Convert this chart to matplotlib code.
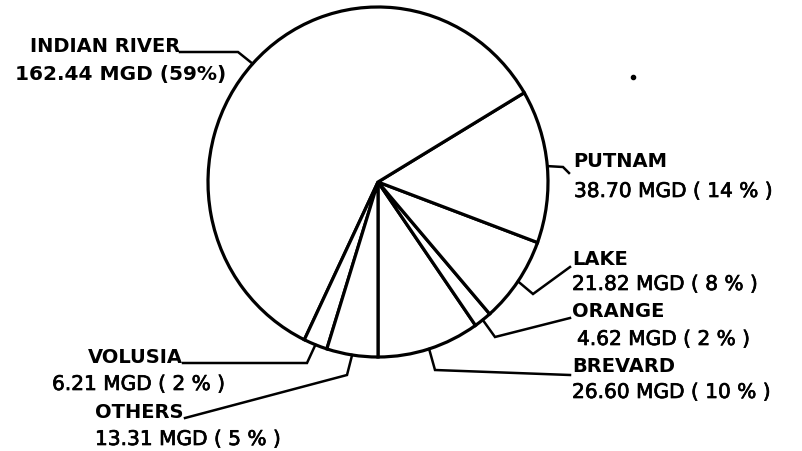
import numpy as np
import matplotlib.pyplot as plt
import matplotlib.patheffects as pe

# water use by county, million gallons per day
counties = ['BREVARD', 'ORANGE', 'LAKE', 'PUTNAM', 'INDIAN RIVER', 'VOLUSIA', 'OTHERS']
mgd = [26.60, 4.62, 21.82, 38.70, 162.44, 6.21, 13.31]
percents = [10, 2, 8, 14, 59, 2, 5]

W, H = 802, 451
CX, CY = 378, 182      # pie centre, pixels from top-left
RX, RY = 170, 175      # the scanned pie is a little taller than wide


def P(x, y):
    # pixel position -> data position
    return (x - CX) / RX, (CY - y) / RY


fig = plt.figure(figsize=(W / 100, H / 100), dpi=100)
ax = fig.add_axes([0, 0, 1, 1])
wedges, _ = ax.pie(mgd, startangle=-90, counterclock=True, radius=1,
                   colors=['white'] * len(mgd),
                   wedgeprops=dict(edgecolor='black', linewidth=2.3))
ax.set_aspect('auto')
x0, y0 = P(0, H)
x1, y1 = P(W, 0)
ax.set_xlim(x0, x1)
ax.set_ylim(y0, y1)
ax.axis('off')

# leader layout: elbow, end of line, name anchor, value position (pixels)
layout = {
    'INDIAN RIVER': [(238, 52), (180, 52), (180, 52), (15, 80)],
    'PUTNAM': [(563, 167), (569, 173), (573, 167), (574, 197)],
    'LAKE': [(533, 294), (570, 267), (572, 265), (572, 290)],
    'ORANGE': [(495, 337), (570, 318), (572, 317), (577, 345)],
    'BREVARD': [(435, 370), (570, 375), (572, 372), (572, 398)],
    'VOLUSIA': [(307, 363), (183, 363), (183, 363), (52, 390)],
    'OTHERS': [(347, 375), (185, 418), (184, 418), (95, 445)],
}
left_side = ['INDIAN RIVER', 'VOLUSIA', 'OTHERS']
thick = [pe.withStroke(linewidth=0.5, foreground='black')]

for w, name, v, p in zip(wedges, counties, mgd, percents):
    mid = np.deg2rad((w.theta1 + w.theta2) / 2)
    sx, sy = np.cos(mid), np.sin(mid)
    elbow, end, npos, vpos = layout[name]
    ex, ey = P(*elbow)
    tx, ty = P(*end)
    ax.plot([sx, ex, tx], [sy, ey, ty], color='black', linewidth=1.8,
            solid_joinstyle='miter')
    ax.text(*P(*npos), name, fontsize=14, fontweight='bold',
            ha='right' if name in left_side else 'left', va='baseline')
    if name == 'INDIAN RIVER':
        ax.text(*P(*vpos), '%.2f MGD (%d%%)' % (v, p), fontsize=14.5,
                fontweight='bold', ha='left', va='baseline')
    else:
        ax.text(*P(*vpos), '%.2f MGD ( %d %% )' % (v, p), fontsize=14.5,
                ha='left', va='baseline', path_effects=thick)

# stray dot on the scan
ax.plot(*P(633, 77), 'o', color='black', markersize=3)

fig.savefig('out.png', dpi=100, facecolor='white')
